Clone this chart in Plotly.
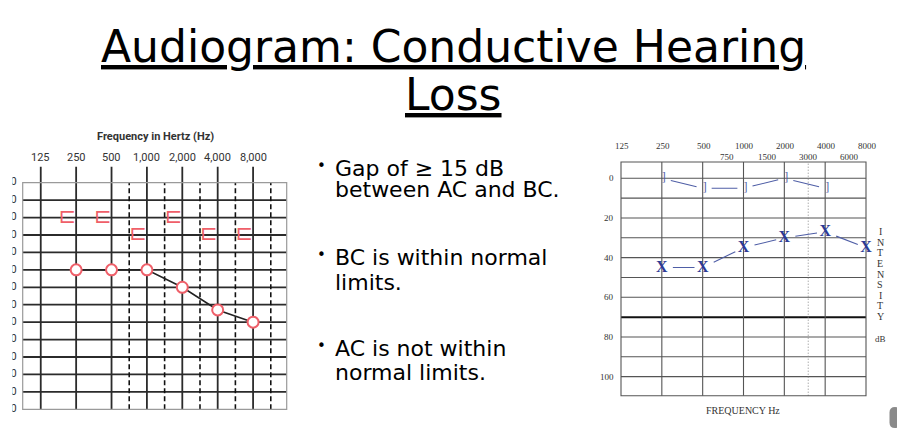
import math
import plotly.graph_objects as go

# The page body has an 8px margin, so the figure is drawn 8px smaller and
# every reference pixel position is shifted by that offset.
PAGE_W, PAGE_H = 905, 448
OFF = 8
W, H = PAGE_W - OFF, PAGE_H - OFF

# ---------------- data ----------------
title_line1 = "Audiogram: Conductive Hearing"
title_line2 = "Loss"

bullet_lines = [
    ["Gap of ≥ 15 dB", "between AC and BC."],
    ["BC is within normal", "limits."],
    ["AC is not within", "normal limits."],
]

# Left audiogram (uniform octave spacing)
left_title = "Frequency in Hertz (Hz)"
left_freq_labels = ["125", "250", "500", "1,000", "2,000", "4,000", "8,000"]
left_freq_pos = [0, 1, 2, 3, 4, 5, 6]
left_half_pos = [2.5, 3.5, 4.5, 5.5, 6.5]
left_db_lines = [0, 10, 20, 30, 40, 50, 60, 70, 80, 90, 100, 110]
left_db_labels = [-10, 0, 10, 20, 30, 40, 50, 60, 70, 80, 90, 100, 110, 120]
left_ac_pos = [1, 2, 3, 4, 5, 6]
left_ac_db = [40, 40, 40, 50, 63, 70]
left_bc_pos = [1, 2, 3, 4, 5, 6]
left_bc_db = [10, 10, 20, 10, 20, 20]

# Right audiogram (log frequency)
right_freq_top = [125, 250, 500, 1000, 2000, 4000, 8000]
right_freq_mid = [750, 1500, 3000, 6000]
right_freq_lines = [250, 500, 1000, 2000, 4000]
right_freq_dotted = 3000
right_db_lines = [0, 10, 20, 30, 40, 50, 60, 80, 90, 100]
right_db_thick = 70
right_db_labels = [0, 20, 40, 60, 80, 100]
right_ac_freq = [250, 500, 1000, 2000, 4000, 8000]
right_ac_db = [45, 45, 35, 30, 27, 35]
right_bc_freq = [250, 500, 1000, 2000, 4000]
right_bc_db = [0, 5, 5, 0, 5]
right_side_label = "INTENSITY"
right_x_title = "FREQUENCY Hz"

# ---------------- helpers ----------------
def px(x):
    return (x - OFF) / W

def py(y):
    return 1 - (y - OFF) / H

def lg(f):
    return math.log2(f)

R_LO, R_HI = lg(125), lg(8000)

def rdom(f):
    return (lg(f) - R_LO) / (R_HI - R_LO)

def gapped(xs, ys, t0, t1):
    gx, gy = [], []
    for i in range(len(xs) - 1):
        for t in (t0, t1):
            gx.append(xs[i] + (xs[i + 1] - xs[i]) * t)
            gy.append(ys[i] + (ys[i + 1] - ys[i]) * t)
        gx.append(None)
        gy.append(None)
    return gx, gy

RED = "#ef5f69"
BLUE = "#2c3a96"
BLUE_L = "#4f5ea6"
GRID = "#2b2b2b"

fig = go.Figure()

# ---- left chart traces ----
fig.add_trace(go.Scatter(
    x=left_ac_pos, y=left_ac_db, mode="lines+markers",
    line=dict(color="#222", width=1.6),
    marker=dict(symbol="circle", size=11, color="white", line=dict(color=RED, width=2)),
    xaxis="x", yaxis="y", cliponaxis=False, hoverinfo="skip"))
fig.add_trace(go.Scatter(
    x=left_bc_pos, y=left_bc_db, mode="text", text=["⊏"] * len(left_bc_pos),
    textposition="middle left",
    textfont=dict(family="DejaVu Sans", size=21, color=RED),
    xaxis="x", yaxis="y", cliponaxis=False, hoverinfo="skip"))

# cropped left tick labels
fig.add_trace(go.Scatter(
    x=[(16.6 - 12.4) / 20.0] * len(left_db_labels), y=left_db_labels, mode="text",
    text=[str(v) for v in left_db_labels], textposition="middle left",
    textfont=dict(family="Roboto", size=11, color="#333"),
    xaxis="x3", yaxis="y3", cliponaxis=True, hoverinfo="skip"))

# ---- right chart traces ----
rbx = [lg(f) for f in right_bc_freq]
gx, gy = gapped(rbx, right_bc_db, 0.22, 0.85)
fig.add_trace(go.Scatter(x=gx, y=gy, mode="lines", line=dict(color=BLUE_L, width=1.1),
                         xaxis="x2", yaxis="y2", hoverinfo="skip"))
fig.add_trace(go.Scatter(
    x=rbx, y=right_bc_db, mode="text", text=["]"] * len(rbx), textposition="middle right",
    textfont=dict(family="Liberation Serif", size=12, color=BLUE_L),
    xaxis="x2", yaxis="y2", cliponaxis=False, hoverinfo="skip"))

rax = [lg(f) for f in right_ac_freq]
gx, gy = gapped(rax, right_ac_db, 0.27, 0.8)
fig.add_trace(go.Scatter(x=gx, y=gy, mode="lines", line=dict(color=BLUE_L, width=1.1),
                         xaxis="x2", yaxis="y2", hoverinfo="skip"))
fig.add_trace(go.Scatter(
    x=rax, y=right_ac_db, mode="text", text=["<b>X</b>"] * len(rax), textposition="middle center",
    textfont=dict(family="Liberation Serif", size=16, color=BLUE),
    xaxis="x2", yaxis="y2", cliponaxis=False, hoverinfo="skip"))

shapes = []
# left grid
for d in left_db_lines:
    shapes.append(dict(type="line", xref="x domain", yref="y", x0=0, x1=1, y0=d, y1=d,
                       line=dict(color=GRID, width=1.8), layer="below"))
for p in left_freq_pos:
    shapes.append(dict(type="line", xref="x", yref="y domain", x0=p, x1=p, y0=0, y1=1.0706,
                       line=dict(color=GRID, width=1.8), layer="below"))
for p in left_half_pos:
    shapes.append(dict(type="line", xref="x", yref="y domain", x0=p, x1=p, y0=0, y1=1,
                       line=dict(color="#111", width=1.6, dash="5px,3px"), layer="below"))
shapes.append(dict(type="rect", xref="x domain", yref="y domain", x0=0, x1=1, y0=0, y1=1,
                   line=dict(color="#9a9a9a", width=1.2), layer="below"))

# right grid
for d in right_db_lines:
    shapes.append(dict(type="line", xref="x2 domain", yref="y2", x0=0, x1=1, y0=d, y1=d,
                       line=dict(color="#555", width=1.1), layer="below"))
shapes.append(dict(type="line", xref="x2 domain", yref="y2", x0=0, x1=1, y0=right_db_thick,
                   y1=right_db_thick, line=dict(color="#111", width=2), layer="below"))
for f in right_freq_lines:
    shapes.append(dict(type="line", xref="x2", yref="y2 domain", x0=lg(f), x1=lg(f), y0=0, y1=1,
                       line=dict(color="#555", width=1.1), layer="below"))
shapes.append(dict(type="line", xref="x2", yref="y2 domain", x0=lg(right_freq_dotted),
                   x1=lg(right_freq_dotted), y0=0, y1=1,
                   line=dict(color="#888", width=1, dash="1px,2px"), layer="below"))
shapes.append(dict(type="rect", xref="x2 domain", yref="y2 domain", x0=0, x1=1, y0=0, y1=1,
                   line=dict(color="#555", width=1.1), layer="below"))

# scrollbar thumb
x0, x1, y0, y1, r = px(889.5), px(900.5), py(407), py(428), 5.5
rx, ry = r / W, r / H
path = (f"M {x0+rx},{y0} L {x1-rx},{y0} Q {x1},{y0} {x1},{y0-ry} L {x1},{y1+ry} "
        f"Q {x1},{y1} {x1-rx},{y1} L {x0+rx},{y1} Q {x0},{y1} {x0},{y1+ry} "
        f"L {x0},{y0-ry} Q {x0},{y0} {x0+rx},{y0} Z")
shapes.append(dict(type="path", xref="paper", yref="paper", path=path,
                   fillcolor="#8a8a8a", line=dict(width=0)))

ann = []
# title
ann.append(dict(text=f"<u>{title_line1}</u>", x=px(453.5), y=py(46.5), xref="paper", yref="paper",
                xanchor="center", yanchor="middle", showarrow=False,
                font=dict(family="DejaVu Sans", size=44, color="black")))
ann.append(dict(text=f"<u>{title_line2}</u>", x=px(453.5), y=py(94.5), xref="paper", yref="paper",
                xanchor="center", yanchor="middle", showarrow=False,
                font=dict(family="DejaVu Sans", size=44, color="black")))

# bullets
bullet_centers = [(168, 189), (257, 282), (348, 372)]
for lines, ys in zip(bullet_lines, bullet_centers):
    ann.append(dict(text="•", x=px(321), y=py(ys[0] - 2), xref="paper", yref="paper",
                    xanchor="center", yanchor="middle", showarrow=False,
                    font=dict(family="DejaVu Sans", size=15, color="black")))
    for t, yc in zip(lines, ys):
        ann.append(dict(text=t, x=px(332.5), y=py(yc), xref="paper", yref="paper",
                        xanchor="left", yanchor="middle", showarrow=False,
                        font=dict(family="DejaVu Sans", size=22, color="black")))

# left chart labels
ann.append(dict(text=f"<b>{left_title}</b>", x=px(155), y=py(136.7), xref="paper", yref="paper",
                xanchor="center", yanchor="middle", showarrow=False,
                font=dict(family="Roboto", size=11, color="#333")))
for p, lab in zip(left_freq_pos, left_freq_labels):
    ann.append(dict(text=lab, x=p, y=py(157.3), xref="x", yref="paper",
                    xanchor="center", yanchor="middle", showarrow=False,
                    font=dict(family="Roboto", size=11, color="#333")))

# right chart labels
for f in right_freq_top:
    ann.append(dict(text=str(f), x=rdom(f) + 0.006, y=py(145.7), xref="x2 domain", yref="paper",
                    xanchor="center", yanchor="middle", showarrow=False,
                    font=dict(family="Liberation Serif", size=9, color="#333")))
for f in right_freq_mid:
    ann.append(dict(text=str(f), x=rdom(f), y=py(156.7), xref="x2 domain", yref="paper",
                    xanchor="center", yanchor="middle", showarrow=False,
                    font=dict(family="Liberation Serif", size=9, color="#333")))
for d in right_db_labels:
    ann.append(dict(text=str(d), x=px(615.5), y=d, xref="paper", yref="y2",
                    xanchor="right", yanchor="middle", showarrow=False,
                    font=dict(family="Liberation Serif", size=9, color="#333")))
for i, ch in enumerate(right_side_label):
    ann.append(dict(text=ch, x=px(880), y=py(231.7 + i * 10.6), xref="paper", yref="paper",
                    xanchor="center", yanchor="middle", showarrow=False,
                    font=dict(family="Liberation Serif", size=10, color="#333")))
ann.append(dict(text="dB", x=px(880), y=py(339), xref="paper", yref="paper",
                xanchor="center", yanchor="middle", showarrow=False,
                font=dict(family="Liberation Serif", size=9, color="#333")))
ann.append(dict(text=right_x_title, x=px(743), y=py(410), xref="paper", yref="paper",
                xanchor="center", yanchor="middle", showarrow=False,
                font=dict(family="Liberation Serif", size=10, color="#333")))

fig.update_layout(
    width=W, height=H, margin=dict(l=0, r=0, t=0, b=0),
    paper_bgcolor="white", plot_bgcolor="rgba(0,0,0,0)", showlegend=False,
    xaxis=dict(domain=[px(22.7), px(286.7)], range=[-0.51, 6.95], visible=False, fixedrange=True),
    yaxis=dict(domain=[py(409.3), py(182.7)], range=[120, -10], visible=False, fixedrange=True),
    xaxis2=dict(domain=[px(621), px(866)], range=[R_LO, R_HI], visible=False,
                anchor="y2", fixedrange=True),
    yaxis2=dict(domain=[py(395.7), py(162)], range=[109.6, -8.2], visible=False,
                anchor="x2", fixedrange=True),
    xaxis3=dict(domain=[px(12.4), px(32.4)], range=[0, 1], visible=False, anchor="y3",
                fixedrange=True),
    yaxis3=dict(domain=[py(412), py(175)], range=[121.5, -14.4], visible=False, anchor="x3",
                fixedrange=True),
    shapes=shapes, annotations=ann,
)

fig.write_html("out.html")
